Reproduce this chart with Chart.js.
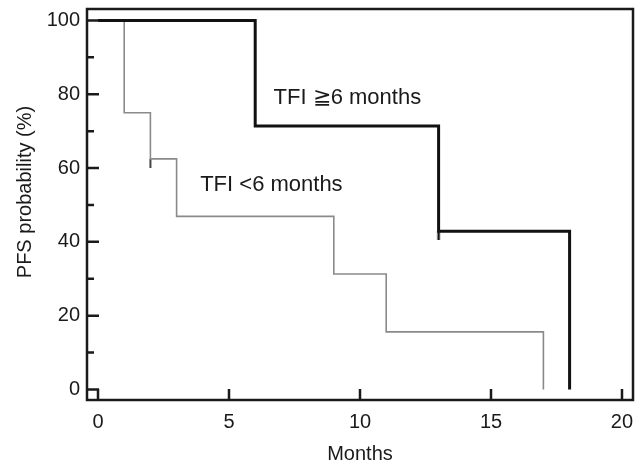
<!DOCTYPE html>
<html>
<head>
<meta charset="utf-8">
<script src="https://cdn.jsdelivr.net/npm/chart.js@4/dist/chart.umd.min.js"></script>
<style>
  html, body { margin: 0; padding: 0; background: #fff; }
</style>
</head>
<body>
<canvas id="pfs-chart" width="642" height="467"></canvas>
<script>
// Kaplan-Meier steps
const shortTfiMonths = [0, 1, 2, 3, 9, 11, 17];
const shortTfiPfs = [100, 75, 62.5, 46.9, 31.3, 15.6, 0];
const longTfiMonths = [0, 6, 13, 18];
const longTfiPfs = [100, 71.4, 42.9, 0];

// censored observations
const shortCensorMonths = [2];
const shortCensorPfs = [62.5];
const longCensorMonths = [13];
const longCensorPfs = [42.9];

const xTickValues = [0, 5, 10, 15, 20];
const yTickValues = [0, 20, 40, 60, 80, 100];
const yMinorTickValues = [10, 30, 50, 70, 90];

const curveLabels = ['TFI \u22676 months', 'TFI <6 months'];
const curveLabelMonths = [6.7, 3.9];
const curveLabelPfs = [79, 55.5];

(function () {
    const ctx = document.getElementById('pfs-chart');
    const ink = '#1a1a1a';
    const fontFamily = '"Liberation Sans", Arial, Helvetica, sans-serif';
    const yTitle = 'PFS probability (%)';

    const toPoints = (xs, ys) => xs.map((x, i) => ({x: x, y: ys[i]}));

    // tick below the step, like the little censor marks in the figure
    function censorMark(color, width, len) {
        const c = document.createElement('canvas');
        c.width = 6;
        c.height = len * 2;
        const g = c.getContext('2d');
        g.strokeStyle = color;
        g.lineWidth = width;
        g.beginPath();
        g.moveTo(3, len);
        g.lineTo(3, len * 2);
        g.stroke();
        return c;
    }

    // frame on all four sides plus inward tick marks
    const frameAndTicks = {
        id: 'frameAndTicks',
        afterDraw(chart) {
            const {ctx: g, chartArea: a} = chart;
            const xs = chart.scales.x, ys = chart.scales.y;
            g.save();
            g.strokeStyle = ink;
            g.lineWidth = 2.5;
            g.lineCap = 'butt';
            g.beginPath();
            xTickValues.forEach(v => {
                const px = xs.getPixelForValue(v);
                g.moveTo(px, a.bottom);
                g.lineTo(px, a.bottom - 11);
            });
            yTickValues.forEach(v => {
                const py = ys.getPixelForValue(v);
                g.moveTo(a.left, py);
                g.lineTo(a.left + 12, py);
            });
            yMinorTickValues.forEach(v => {
                const py = ys.getPixelForValue(v);
                g.moveTo(a.left, py);
                g.lineTo(a.left + 7, py);
            });
            g.stroke();
            g.strokeRect(a.left, a.top, a.right - a.left, a.bottom - a.top);

            g.fillStyle = ink;
            g.textBaseline = 'middle';

            // curve labels
            g.font = '22px ' + fontFamily;
            g.textAlign = 'left';
            curveLabels.forEach((t, i) => {
                g.fillText(t, xs.getPixelForValue(curveLabelMonths[i]),
                    ys.getPixelForValue(curveLabelPfs[i]));
            });

            // y axis title sits a bit above the middle in the original
            g.font = '20px ' + fontFamily;
            g.textAlign = 'center';
            g.translate(25, ys.getPixelForValue(53.5));
            g.rotate(-Math.PI / 2);
            g.fillText(yTitle, 0, 0);
            g.restore();
        }
    };

    Chart.defaults.font.family = fontFamily;
    Chart.defaults.color = ink;

    new Chart(ctx, {
        type: 'scatter',
        data: {
            datasets: [
                {
                    label: 'TFI >=6 months',
                    data: toPoints(longTfiMonths, longTfiPfs),
                    showLine: true,
                    stepped: true,
                    borderColor: '#111',
                    borderWidth: 3,
                    pointRadius: 0,
                },
                {
                    label: 'TFI <6 months',
                    data: toPoints(shortTfiMonths, shortTfiPfs),
                    showLine: true,
                    stepped: true,
                    borderColor: '#8a8a8a',
                    borderWidth: 1.6,
                    pointRadius: 0,
                },
                {
                    label: 'censored long',
                    data: toPoints(longCensorMonths, longCensorPfs),
                    showLine: false,
                    pointStyle: censorMark('#111', 2.5, 9),
                },
                {
                    label: 'censored short',
                    data: toPoints(shortCensorMonths, shortCensorPfs),
                    showLine: false,
                    pointStyle: censorMark('#444', 2, 9),
                },
            ],
        },
        options: {
            responsive: false,
            animation: false,
            layout: {
                padding: {top: 9, right: 9, left: 0, bottom: 0},
            },
            scales: {
                x: {
                    type: 'linear',
                    min: -0.42,
                    max: 20.42,
                    afterFit: scale => {
                        scale.height = 67;
                        scale.paddingLeft = 0;
                        scale.paddingRight = 0;
                    },
                    afterBuildTicks: scale => {
                        scale.ticks = xTickValues.map(v => ({value: v}));
                    },
                    grid: {display: false, drawTicks: false},
                    border: {display: false},
                    ticks: {
                        padding: 10,
                        font: {size: 20},
                        color: ink,
                    },
                    title: {
                        display: true,
                        text: 'Months',
                        font: {size: 20},
                        color: ink,
                        padding: {top: 0, bottom: 1},
                    },
                },
                y: {
                    type: 'linear',
                    min: -2.85,
                    max: 103.1,
                    afterFit: scale => {
                        scale.width = 87;
                        scale.paddingTop = 0;
                        scale.paddingBottom = 0;
                    },
                    afterBuildTicks: scale => {
                        scale.ticks = yTickValues.map(v => ({value: v}));
                    },
                    grid: {display: false, drawTicks: false},
                    border: {display: false},
                    ticks: {
                        padding: 7,
                        font: {size: 20},
                        color: ink,
                    },
                },
            },
            plugins: {
                legend: {display: false},
                tooltip: {enabled: false},
            },
        },
        plugins: [frameAndTicks],
    });
})();
</script>
</body>
</html>
